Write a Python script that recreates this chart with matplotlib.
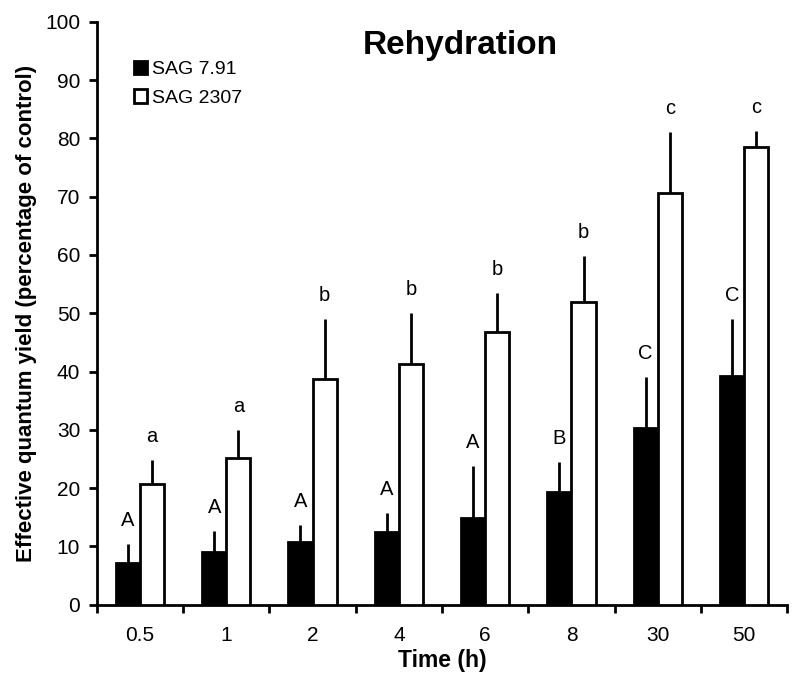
import matplotlib.pyplot as plt
import numpy as np

plt.rcParams['font.family'] = ['Liberation Sans', 'DejaVu Sans']

# Data
times = ['0.5', '1', '2', '4', '6', '8', '30', '50']
sag791 = [7.2, 9.0, 10.8, 12.5, 14.8, 19.4, 30.3, 39.2]
sag791_err = [3.3, 3.6, 2.9, 3.2, 9.0, 5.1, 8.7, 9.8]
sag2307 = [20.7, 25.1, 38.8, 41.3, 46.8, 52.0, 70.7, 78.5]
sag2307_err = [4.1, 4.9, 10.2, 8.7, 6.7, 7.8, 10.4, 2.8]
letters_791 = ['A', 'A', 'A', 'A', 'A', 'B', 'C', 'C']
letters_2307 = ['a', 'a', 'b', 'b', 'b', 'b', 'c', 'c']

x = np.arange(len(times)) + 0.5
width = 0.28

fig = plt.figure(figsize=(8, 6.78), dpi=100)
ax = fig.add_axes([0.121, 0.108, 0.863, 0.86])

ax.bar(x - width / 2, sag791, width, color='black', edgecolor='black',
       linewidth=2, label='SAG 7.91', zorder=3)
ax.bar(x + width / 2, sag2307, width, color='white', edgecolor='black',
       linewidth=2, label='SAG 2307', zorder=3)

# upward-only error bars, no caps
ax.errorbar(x - width / 2, sag791, yerr=[np.zeros(len(x)), sag791_err],
            fmt='none', ecolor='black', elinewidth=2, capsize=0, zorder=2)
ax.errorbar(x + width / 2, sag2307, yerr=[np.zeros(len(x)), sag2307_err],
            fmt='none', ecolor='black', elinewidth=2, capsize=0, zorder=2)

for i in range(len(x)):
    ax.text(x[i] - width / 2, sag791[i] + sag791_err[i] + 2.4, letters_791[i],
            ha='center', va='bottom', fontsize=14.5)
    ax.text(x[i] + width / 2, sag2307[i] + sag2307_err[i] + 2.4, letters_2307[i],
            ha='center', va='bottom', fontsize=14.5)

ax.set_xlim(0, len(times))
ax.set_ylim(0, 100)
ax.set_yticks(np.arange(0, 101, 10))
ax.set_xticks(x)
ax.set_xticklabels(times)
ax.set_xticks(np.arange(0, len(times) + 1), minor=True)
ax.tick_params(axis='x', which='major', length=0, labelsize=15, pad=15)
ax.tick_params(axis='x', which='minor', length=6, width=2, direction='out')
ax.tick_params(axis='y', length=6, width=2, labelsize=15, pad=6)

for s in ['top', 'right']:
    ax.spines[s].set_visible(False)
for s in ['left', 'bottom']:
    ax.spines[s].set_linewidth(2)

ax.set_xlabel('Time (h)', fontsize=16.5, fontweight='bold', labelpad=3)
ax.set_ylabel('Effective quantum yield (percentage of control)', fontsize=16,
              fontweight='bold', labelpad=6)
ax.text(0.526, 0.96, 'Rehydration', transform=ax.transAxes, ha='center',
        va='center', fontsize=24, fontweight='bold')

ax.legend(loc='upper left', bbox_to_anchor=(0.043, 0.946), frameon=False,
          fontsize=14, handlelength=0.68, handleheight=0.68, handletextpad=0.25,
          labelspacing=0.55, borderaxespad=0)

fig.savefig('out.png', dpi=100)
